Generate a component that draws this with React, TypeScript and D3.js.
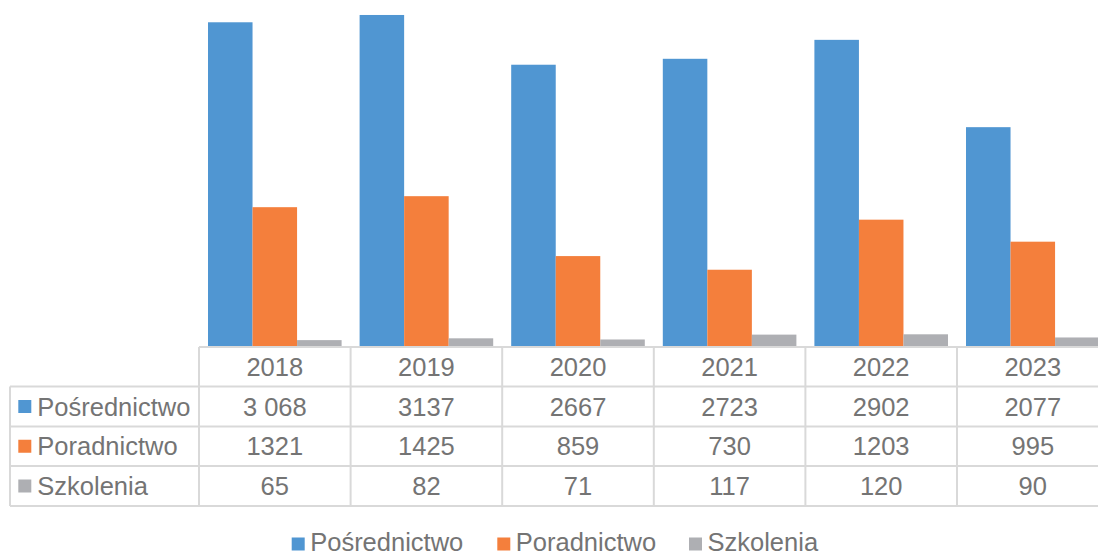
import React from "react";
import * as d3 from "d3";

const years = ["2018", "2019", "2020", "2021", "2022", "2023"];
const seriesNames = ["Pośrednictwo", "Poradnictwo", "Szkolenia"];
const posrednictwo = [3068, 3137, 2667, 2723, 2902, 2077];
const poradnictwo = [1321, 1425, 859, 730, 1203, 995];
const szkolenia = [65, 82, 71, 117, 120, 90];
const tableLabels = [
  ["3 068", "3137", "2667", "2723", "2902", "2077"],
  ["1321", "1425", "859", "730", "1203", "995"],
  ["65", "82", "71", "117", "120", "90"],
];
const colors = ["#5096D2", "#F47F3C", "#AEAFB3"];

const W = 1098;
const H = 554;
const baseY = 347;
const pxPerUnit = 0.10584;
const colLeft = 199;
const colW = 151.6;
const tableLeft = 10;
const rowTops = [347, 386.5, 426.5, 466, 506];
const FONT = "'Liberation Sans', Arial, sans-serif";
const textColor = "#747474";
const gridColor = "#D9D9D9";

export default function App() {
  const values = [posrednictwo, poradnictwo, szkolenia];
  const y = d3
    .scaleLinear()
    .domain([0, 3500])
    .range([baseY, baseY - 3500 * pxPerUnit]);
  const x0 = d3
    .scaleBand<string>()
    .domain(years)
    .range([colLeft, colLeft + colW * years.length])
    .padding(0);
  const x1 = d3
    .scaleBand<string>()
    .domain(seriesNames)
    .range([9, colW - 9])
    .padding(0);

  const rightEdge = colLeft + colW * years.length;
  const legendX = [291.7, 497.3, 689];

  return (
    <svg
      width={W}
      height={H}
      style={{ position: "absolute", left: 0, top: 0, background: "#fff" }}
      fontFamily={FONT}
    >
      {/* bars */}
      {seriesNames.map((s, si) =>
        years.map((yr, i) => (
          <rect
            key={s + yr}
            x={(x0(yr) as number) + (x1(s) as number)}
            y={y(values[si][i])}
            width={x1.bandwidth()}
            height={baseY - y(values[si][i])}
            fill={colors[si]}
          />
        ))
      )}

      {/* table grid */}
      <g stroke={gridColor} strokeWidth={2} fill="none">
        <line x1={colLeft} x2={rightEdge} y1={rowTops[0]} y2={rowTops[0]} />
        {rowTops.slice(1).map((ry, k) => (
          <line key={"h" + k} x1={tableLeft} x2={rightEdge} y1={ry} y2={ry} />
        ))}
        <line x1={tableLeft} x2={tableLeft} y1={rowTops[1]} y2={rowTops[4]} />
        {years.map((yr) => (
          <line
            key={"v" + yr}
            x1={x0(yr) as number}
            x2={x0(yr) as number}
            y1={rowTops[0]}
            y2={rowTops[4]}
          />
        ))}
        <line x1={rightEdge} x2={rightEdge} y1={rowTops[0]} y2={rowTops[4]} />
      </g>

      {/* header years */}
      {years.map((yr) => (
        <text
          key={"yr" + yr}
          x={(x0(yr) as number) + colW / 2}
          y={(rowTops[0] + rowTops[1]) / 2 + 9.2}
          textAnchor="middle"
          fontSize={25.5}
          fill={textColor}
        >
          {yr}
        </text>
      ))}

      {/* rows */}
      {seriesNames.map((s, si) => {
        const mid = (rowTops[si + 1] + rowTops[si + 2]) / 2;
        return (
          <g key={"row" + s}>
            <rect x={18.3} y={mid - 6.5} width={13} height={13} fill={colors[si]} />
            <text x={37.3} y={mid + 9.2} fontSize={25.5} fill={textColor}>
              {s}
            </text>
            {years.map((yr, i) => (
              <text
                key={"c" + s + yr}
                x={(x0(yr) as number) + colW / 2}
                y={mid + 9.2}
                textAnchor="middle"
                fontSize={25.5}
                fill={textColor}
              >
                {tableLabels[si][i]}
              </text>
            ))}
          </g>
        );
      })}

      {/* legend */}
      {seriesNames.map((s, si) => (
        <g key={"lg" + s}>
          <rect x={legendX[si]} y={537.5} width={13} height={13} fill={colors[si]} />
          <text x={legendX[si] + 18.5} y={550.5} fontSize={25.5} fill={textColor}>
            {s}
          </text>
        </g>
      ))}
    </svg>
  );
}
